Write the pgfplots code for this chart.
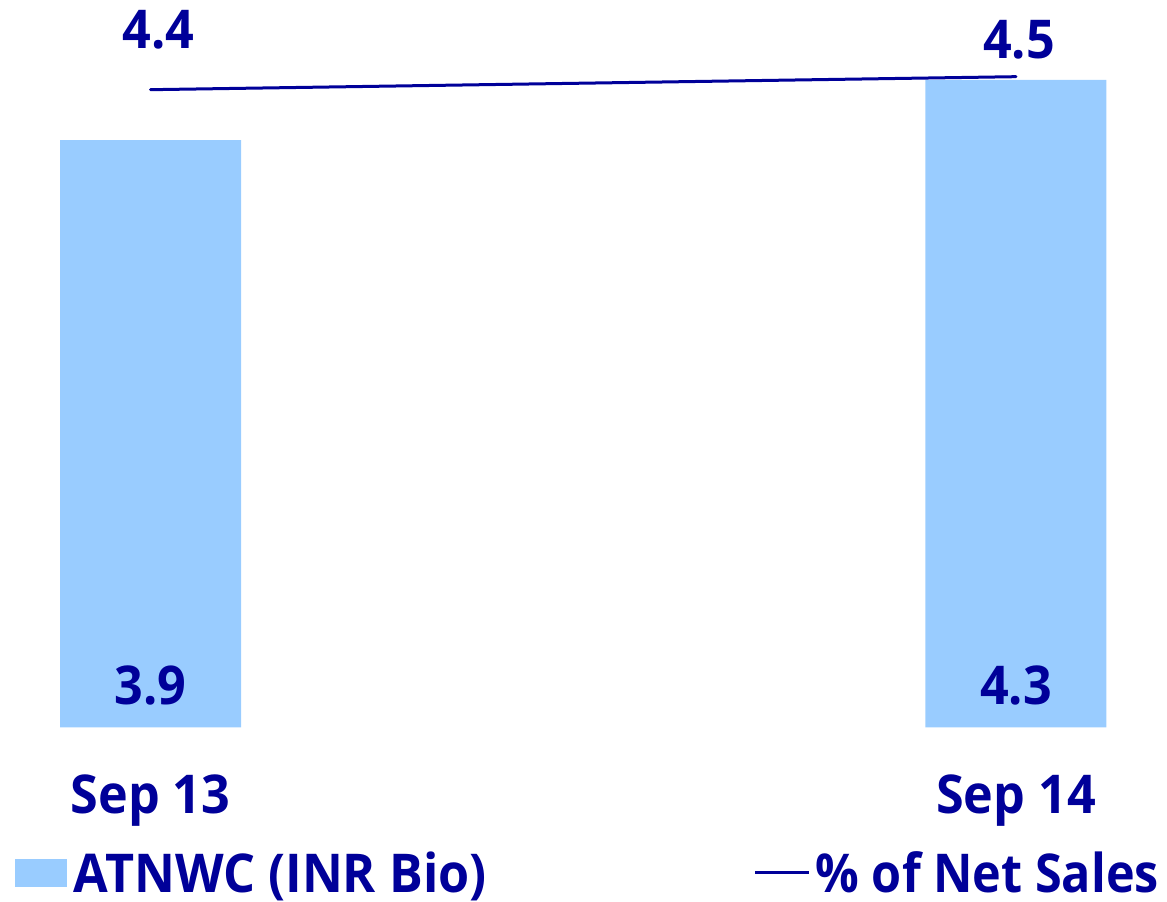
\documentclass[border=0pt]{standalone}
\usepackage{graphicx}
\usepackage{pgfplots}
\pgfplotsset{compat=1.18}
\usepackage{fontspec}
\setmainfont{Open Sans}[FakeStretch=0.94]
\definecolor{barblue}{HTML}{99CCFF}
\definecolor{navy}{HTML}{000099}
\newcommand\bigfont{\fontsize{53.5}{60}\selectfont\bfseries}
\begin{document}
\begin{tikzpicture}
\useasboundingbox (0,0) rectangle (1167pt,902pt);
\begin{axis}[
  at={(0pt,174.5pt)}, anchor=south west,
  scale only axis, width=1167pt, height=727.5pt,
  xmin=-0.1739, xmax=1.1745, ymin=0, ymax=4.831,
  axis line style={draw=none}, ytick=\empty,
  xtick={0,1}, xticklabels={Sep 13, Sep 14},
  major tick length=0pt,
  xticklabel style={anchor=base, yshift=-85.5pt, font=\bigfont, text=navy},
  ybar, bar width=181pt,
  legend columns=2,
  legend style={at={(0.01285,-0.1995)}, anchor=west, draw=none, fill=none,
    inner sep=0pt, outer sep=0pt, font=\bigfont, text=navy,
    /tikz/every even column/.append style={column sep=265pt}},
]
\addplot[fill=barblue, draw=none,
  legend image code/.code={\fill[barblue] (0pt,-14pt) rectangle (52pt,14pt); \path (57pt,0pt);}]
  coordinates {(0,3.9) (1,4.3)};
\addlegendentry{ATNWC (INR Bio)}
\addlegendimage{navy, line width=3pt,
  legend image code/.code={\draw[navy, line width=3.2pt] (0pt,0pt) -- (54pt,0pt); \path (57pt,0pt);}}
\addlegendentry{\scalebox{0.965}[1]{\% of Net Sales}}
\node[anchor=base, font=\bigfont, text=navy, yshift=22.5pt] at (axis cs:0,0) {3.9};
\node[anchor=base, font=\bigfont, text=navy, yshift=22.5pt] at (axis cs:1,0) {4.3};
\end{axis}
\begin{axis}[
  at={(0pt,174.5pt)}, anchor=south west,
  scale only axis, width=1167pt, height=727.5pt,
  xmin=-0.1739, xmax=1.1745, ymin=-0.506, ymax=5.090,
  hide axis, clip=false,
]
\addplot[navy, line width=3pt, line cap=round, mark=none,
  nodes near coords, point meta=explicit symbolic,
  visualization depends on={\thisrow{dx} \as \dx},
  visualization depends on={\thisrow{dy} \as \dy},
  every node near coord/.append style={anchor=base, xshift=\dx pt, yshift=\dy pt, font=\bigfont, text=navy}]
  table[x=x, y=y, meta=lab] {
x y dx dy lab
0 4.4 8 40.7 4.4
1 4.5 3 17.7 4.5
};
\end{axis}
\end{tikzpicture}
\end{document}
